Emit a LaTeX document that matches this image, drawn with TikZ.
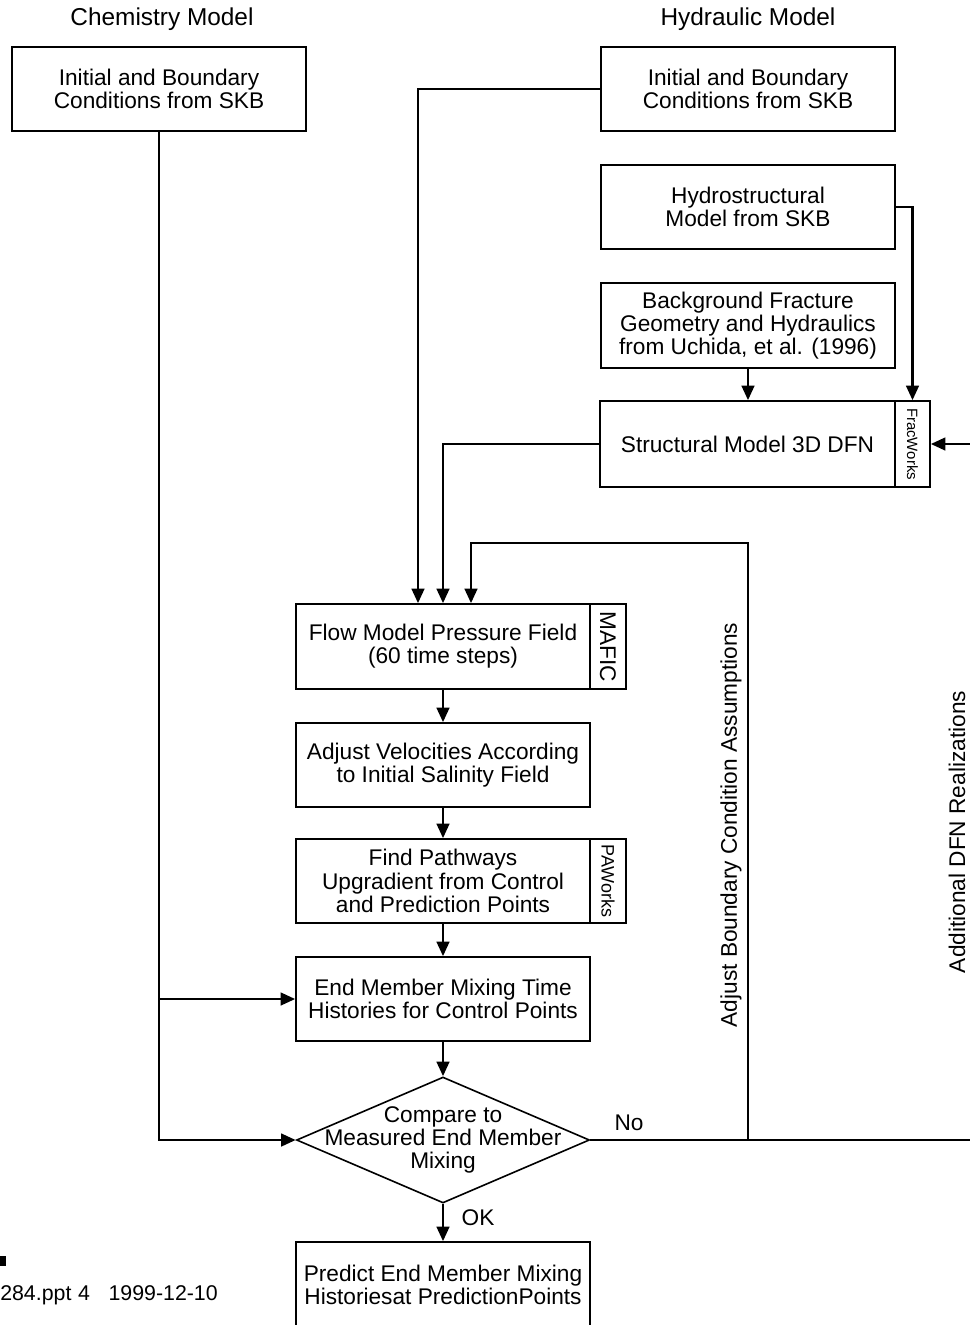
\documentclass[tikz,border=0pt]{standalone}
\usepackage{fontspec}
\setmainfont{Liberation Sans}
\usetikzlibrary{arrows.meta,shapes.geometric}
\newcommand\mainf{\fontsize{17}{17.4}\selectfont}
\newcommand\titlef{\fontsize{18.3}{20}\selectfont}
\newcommand\fracf{\fontsize{11.2}{12}\selectfont}
\newcommand\pawf{\fontsize{13.5}{14}\selectfont}
\newcommand\footf{\fontsize{16}{18}\selectfont}
\begin{document}
\begin{tikzpicture}[x=0.75pt,y=-0.75pt,
  box/.style={draw, line width=1.2pt, minimum width=220.5pt, minimum height=63pt, inner sep=0pt, align=center, font=\mainf},
  strip/.style={draw, line width=1.2pt, minimum width=27pt, minimum height=63.75pt, inner sep=0pt},
  lbl/.style={font=\mainf, inner sep=0pt},
  arr/.style={line width=2pt, -{Triangle[length=11pt,width=9.5pt]}}]
\useasboundingbox (0,0) rectangle (970,1325);
\clip (0,0) rectangle (970,1325);

% titles
\node[font=\titlef] (chemtitle) at (162,19) {Chemistry Model};
\node[font=\titlef] (hydtitle) at (748,19) {Hydraulic Model};

% boxes
\node[box] (chem) at (159,89) {Initial and Boundary\\Conditions from SKB};
\node[box] (hibc) at (748,89) {Initial and Boundary\\Conditions from SKB};
\node[box] (hydro) at (748,207) {Hydrostructural\\Model from SKB};
\node[box, minimum height=63.75pt] (back) at (748,325.5) {Background Fracture\\Geometry and Hydraulics\\from Uchida, et al. (1996)};
\node[box, minimum width=221.25pt, minimum height=64.5pt] (struct) at (747.5,444) {Structural Model 3D DFN};
\node[strip, minimum width=26.25pt, minimum height=64.5pt] (frac) at (912.5,444) {};
\node[rotate=-90, font=\fracf, inner sep=0pt] (fractext) at (frac) {FracWorks};

\node[box, minimum height=63.75pt] (flow) at (443,646.5) {Flow Model Pressure Field\\(60 time steps)};
\node[strip] (mafic) at (608,646.5) {};
\node[rotate=-90, font=\mainf, inner sep=0pt] (mafictext) at (mafic) {MAFIC};

\node[box] (adj) at (443,765) {Adjust Velocities According\\to Initial Salinity Field};

\node[box] (find) at (443,881) {Find Pathways\\Upgradient from Control\\and Prediction Points};
\node[strip, minimum height=63pt] (paw) at (608,881) {};
\node[rotate=-90, font=\pawf, inner sep=0pt] (pawtext) at (paw) {PAWorks};

\node[box] (endm) at (443,999) {End Member Mixing Time\\Histories for Control Points};

\node[diamond, draw, line width=1.2pt, minimum width=219.75pt, minimum height=94.5pt, inner sep=0pt] (dia) at (443,1140) {};
\node[font=\mainf, align=center, inner sep=0pt] (diatext) at (dia.center) {Compare to\\Measured End Member\\Mixing};

\node[box, minimum height=64.5pt] (pred) at (443,1285) {Predict End Member Mixing\\Historiesat PredictionPoints};

% connectors
\draw[arr] (chem.south) |- (dia.west);
\draw[arr] (chem.south |- endm.west) -- (endm.west);
\draw[arr] (hibc.west) -| ([xshift=-18.75pt]flow.north);
\draw[arr] (struct.west) -| (flow.north);
\coordinate (lp) at (748,1140);
\coordinate (lptop) at (748,543);
\draw[arr] (lp) -- (lptop) -| ([xshift=21pt]flow.north);
\coordinate (rb) at (995,1140);
\draw[arr] (dia.east) -- (rb) |- (frac.east);
\draw[arr] (hydro.east) -| (frac.north);
\draw[arr] (back.south) -- (back.south |- struct.north);
\draw[arr] (flow.south) -- (adj.north);
\draw[arr] (adj.south) -- (find.north);
\draw[arr] (find.south) -- (endm.north);
\draw[arr] (endm.south) -- (dia.north);
\draw[arr] (dia.south) -- (pred.north);

% labels
\node[lbl, rotate=90] (adjlabel) at (731,825) {Adjust Boundary Condition Assumptions};
\node[lbl, rotate=90] (addlabel) at (957,832) {Additional DFN Realizations};
\node[lbl] (nolabel) at (629,1123) {No};
\node[lbl] (oklabel) at (478,1218) {OK};

% footer
\fill (0,1256) rectangle (6,1266);
\node[inner sep=0pt, font=\footf, anchor=west] (footer) at (0,1295) {284.ppt\hspace{5pt}4\hspace{14pt}1999-12-10};
\end{tikzpicture}
\end{document}
